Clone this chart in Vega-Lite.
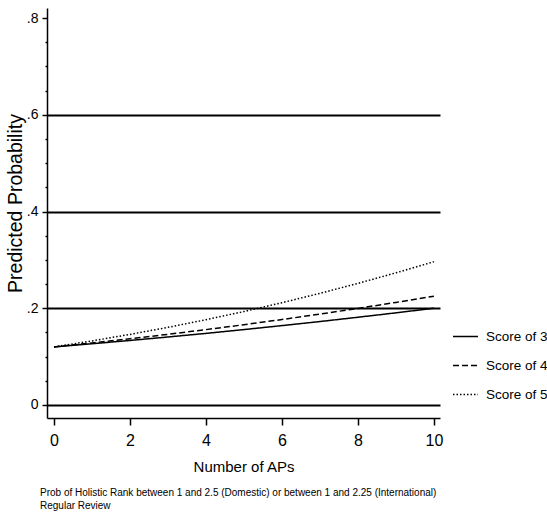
{
  "$schema": "https://vega.github.io/schema/vega-lite/v6.json",
  "width": 393,
  "height": 410,
  "autosize": "none",
  "padding": {"left": 47, "top": 8, "right": 107, "bottom": 107},
  "background": "white",
  "config": {
    "view": {"stroke": null},
    "font": "Liberation Sans, Arial, sans-serif"
  },
  "title": {
    "text": ["Prob of Holistic Rank between 1 and 2.5 (Domestic) or between 1 and 2.25 (International)", "Regular Review"],
    "orient": "bottom",
    "anchor": "start",
    "frame": "group",
    "fontSize": 10,
    "fontWeight": "normal",
    "lineHeight": 13,
    "color": "black",
    "dx": -7,
    "offset": 14,
    "baseline": "top"
  },
  "data": {
    "values": [
      {"x": 0, "score": "Score of 3", "p": 0.120},
      {"x": 1, "score": "Score of 3", "p": 0.1266},
      {"x": 2, "score": "Score of 3", "p": 0.1334},
      {"x": 3, "score": "Score of 3", "p": 0.1406},
      {"x": 4, "score": "Score of 3", "p": 0.1480},
      {"x": 5, "score": "Score of 3", "p": 0.1559},
      {"x": 6, "score": "Score of 3", "p": 0.1641},
      {"x": 7, "score": "Score of 3", "p": 0.1725},
      {"x": 8, "score": "Score of 3", "p": 0.1814},
      {"x": 9, "score": "Score of 3", "p": 0.1905},
      {"x": 10, "score": "Score of 3", "p": 0.2000},
      {"x": 0, "score": "Score of 4", "p": 0.120},
      {"x": 1, "score": "Score of 4", "p": 0.1283},
      {"x": 2, "score": "Score of 4", "p": 0.1369},
      {"x": 3, "score": "Score of 4", "p": 0.1461},
      {"x": 4, "score": "Score of 4", "p": 0.1558},
      {"x": 5, "score": "Score of 4", "p": 0.1660},
      {"x": 6, "score": "Score of 4", "p": 0.1767},
      {"x": 7, "score": "Score of 4", "p": 0.1879},
      {"x": 8, "score": "Score of 4", "p": 0.1997},
      {"x": 9, "score": "Score of 4", "p": 0.2121},
      {"x": 10, "score": "Score of 4", "p": 0.2250},
      {"x": 0, "score": "Score of 5", "p": 0.120},
      {"x": 1, "score": "Score of 5", "p": 0.1325},
      {"x": 2, "score": "Score of 5", "p": 0.1459},
      {"x": 3, "score": "Score of 5", "p": 0.1605},
      {"x": 4, "score": "Score of 5", "p": 0.1763},
      {"x": 5, "score": "Score of 5", "p": 0.1932},
      {"x": 6, "score": "Score of 5", "p": 0.2114},
      {"x": 7, "score": "Score of 5", "p": 0.2308},
      {"x": 8, "score": "Score of 5", "p": 0.2514},
      {"x": 9, "score": "Score of 5", "p": 0.2732},
      {"x": 10, "score": "Score of 5", "p": 0.2961}
    ]
  },
  "mark": {"type": "line", "color": "black", "strokeWidth": 1.5},
  "encoding": {
    "x": {
      "field": "x",
      "type": "quantitative",
      "scale": {"domain": [-0.184, 10.16], "nice": false, "zero": false},
      "axis": {
        "values": [0, 2, 4, 6, 8, 10],
        "grid": false,
        "title": "Number of APs",
        "titleFontSize": 15,
        "titleFontWeight": "normal",
        "titleColor": "black",
        "titleBaseline": "alphabetic",
        "titleY": 53,
        "labelFontSize": 16,
        "labelColor": "black",
        "labelPadding": 7,
        "tickSize": 7,
        "tickColor": "black",
        "tickWidth": 1.5,
        "domainColor": "black",
        "domainWidth": 1.5
      }
    },
    "y": {
      "field": "p",
      "type": "quantitative",
      "scale": {"domain": [-0.0269, 0.8207], "nice": false, "zero": false},
      "axis": {
        "values": [0, 0.05, 0.1, 0.15, 0.2, 0.25, 0.3, 0.35, 0.4, 0.45, 0.5, 0.55, 0.6, 0.65, 0.7, 0.75, 0.8],
        "labelExpr": "datum.value == 0 ? '0' : (abs(datum.value*5 - round(datum.value*5)) < 0.001 ? replace(format(datum.value, '.1f'), '0.', '.') : '')",
        "labelFontSize": 14,
        "labelColor": "black",
        "labelPadding": 4,
        "labelOverlap": false,
        "tickSize": {"condition": {"test": "abs(datum.value*5 - round(datum.value*5)) < 0.001", "value": 5}, "value": 2},
        "tickColor": "black",
        "tickWidth": 1.5,
        "domainColor": "black",
        "domainWidth": 1.5,
        "grid": true,
        "gridColor": "black",
        "gridWidth": 2,
        "gridOpacity": {"condition": {"test": "abs(datum.value*5 - round(datum.value*5)) < 0.001 && datum.value < 0.7", "value": 1}, "value": 0},
        "title": "Predicted Probability",
        "titleFontSize": 19.5,
        "titleFontWeight": "normal",
        "titleColor": "black",
        "titleX": -22,
        "titleY": 195,
        "titleBaseline": "bottom"
      }
    },
    "strokeDash": {
      "field": "score",
      "type": "nominal",
      "scale": {"domain": ["Score of 3", "Score of 4", "Score of 5"], "range": [[1, 0], [6, 3], [1.5, 2]]},
      "legend": {
        "title": null,
        "orient": "none",
        "legendX": 405,
        "legendY": 315,
        "symbolType": "stroke",
        "symbolSize": 625,
        "symbolStrokeWidth": 1.5,
        "symbolStrokeColor": "black",
        "labelFontSize": 13.5,
        "labelColor": "black",
        "labelOffset": 7,
        "rowPadding": 9,
        "labelLimit": 200
      }
    }
  }
}
